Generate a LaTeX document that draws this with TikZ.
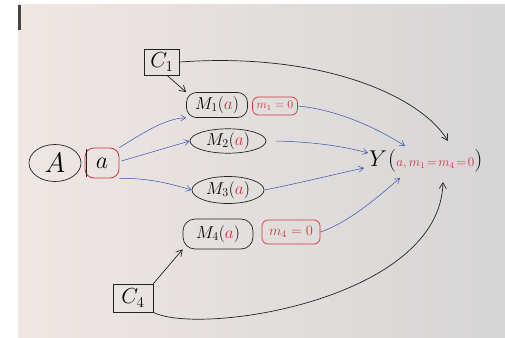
\documentclass[tikz,border=0pt]{standalone}
\usepackage{graphicx}
\usetikzlibrary{shapes.geometric,arrows.meta}
\definecolor{ink}{RGB}{35,35,35}
\definecolor{blueink}{RGB}{55,80,175}
\definecolor{redink}{RGB}{205,55,60}
\definecolor{paperL}{RGB}{238,231,228}
\definecolor{paperR}{RGB}{214,213,213}
\newcommand{\sclt}[2]{\scalebox{#1}{#2}}
\tikzset{
  x=1pt,y=-1pt,
  blk/.style={draw=ink,line width=0.7pt},
  redbox/.style={draw=redink,line width=0.7pt,rounded corners=6pt,text=redink,inner sep=1pt},
  blarrow/.style={draw=blueink,line width=0.5pt,-{Straight Barb[length=5pt,width=6pt]}},
  bkarrow/.style={draw=ink,line width=0.7pt,-{Straight Barb[length=6pt,width=7pt]}},
  mlab/.style={font=\LARGE},
}
\begin{document}
\begin{tikzpicture}
\useasboundingbox (0,0) rectangle (505,337);
\fill[white] (0,0) rectangle (505,337);
\shade[left color=paperL,right color=paperR] (18,5) rectangle (505,337);
\fill[ink!85] (18,5) rectangle (21,30);

% nodes
\node[blk,ellipse,minimum width=52pt,minimum height=37pt,inner sep=0pt] (A) at (55,163) {\sclt{1.35}{\huge $A$}};
\node[draw=redink,line width=0.8pt,rounded corners=9pt,minimum width=34pt,minimum height=30pt,inner sep=0pt] (a) at (102,163) {\sclt{1.15}{\huge $a$}};
\draw[ink,line width=0.7pt] (86,149) -- (86,177);
\node[blk,minimum width=35pt,minimum height=26pt,inner sep=1pt] (C1) at (162,62) {\sclt{1.05}{\huge $C_1$}};
\node[blk,rounded corners=10pt,minimum width=61pt,minimum height=25pt,inner sep=1pt,mlab] (M1) at (217,105) {$M_1(\textcolor{redink}{a})$};
\node[redbox,minimum width=45pt,minimum height=18pt,font=\large] (m1) at (275,106) {$m_1=0$};
\node[blk,ellipse,minimum width=76pt,minimum height=24pt,inner sep=0pt,mlab] (M2) at (228,141) {$M_2(\textcolor{redink}{a})$};
\node[blk,ellipse,minimum width=72pt,minimum height=27pt,inner sep=0pt,mlab] (M3) at (228,190) {$M_3(\textcolor{redink}{a})$};
\node[blk,rounded corners=12pt,minimum width=70pt,minimum height=30pt,inner sep=1pt,mlab] (M4) at (218,234) {$M_4(\textcolor{redink}{a})$};
\node[redbox,minimum width=58pt,minimum height=24pt,font=\Large] (m4) at (291,232) {$m_4=0$};
\node[blk,minimum width=40pt,minimum height=28pt,inner sep=1pt] (C4) at (133,298) {\sclt{1.05}{\huge $C_4$}};
\node[inner sep=0pt,anchor=west] (Y) at (369,161) {\sclt{1.1}{\huge $Y$\kern1pt(\large\textcolor{redink}{$a,m_1\!=\!m_4\!=\!0$}\huge)}};

% black curves
\coordinate (Ytop) at (448,141);
\coordinate (Ybot) at (443,182);
\draw[bkarrow] (C1.east) .. controls (320,52) and (420,95) .. (Ytop);
\draw[bkarrow] (C4.south east) .. controls (200,336) and (440,300) .. (Ybot);
\draw[bkarrow] (C1.south) ++(5,0) -- (M1.north west);
\draw[bkarrow] (C4.north east) -- (M4.south west);

% blue arrows
\coordinate (Y1) at (405,146);
\coordinate (Y2) at (368,153);
\coordinate (Y3) at (364,168);
\coordinate (Y4) at (400,178);
\draw[blarrow] (a.north east) .. controls (140,135) and (165,118) .. (M1.south west);
\draw[blarrow] (a.east) ++(2,-2) -- (M2.west);
\draw[blarrow] (a.south east) .. controls (145,178) and (165,182) .. (M3.west);
\draw[blarrow] (m1.east) .. controls (340,110) and (380,130) .. (Y1);
\draw[blarrow] (M2.east) ++(10,0) .. controls (320,142) and (350,148) .. (Y2);
\draw[blarrow] (M3.east) .. controls (300,183) and (340,173) .. (Y3);
\draw[blarrow] (m4.east) .. controls (350,222) and (380,195) .. (Y4);
\end{tikzpicture}
\end{document}
